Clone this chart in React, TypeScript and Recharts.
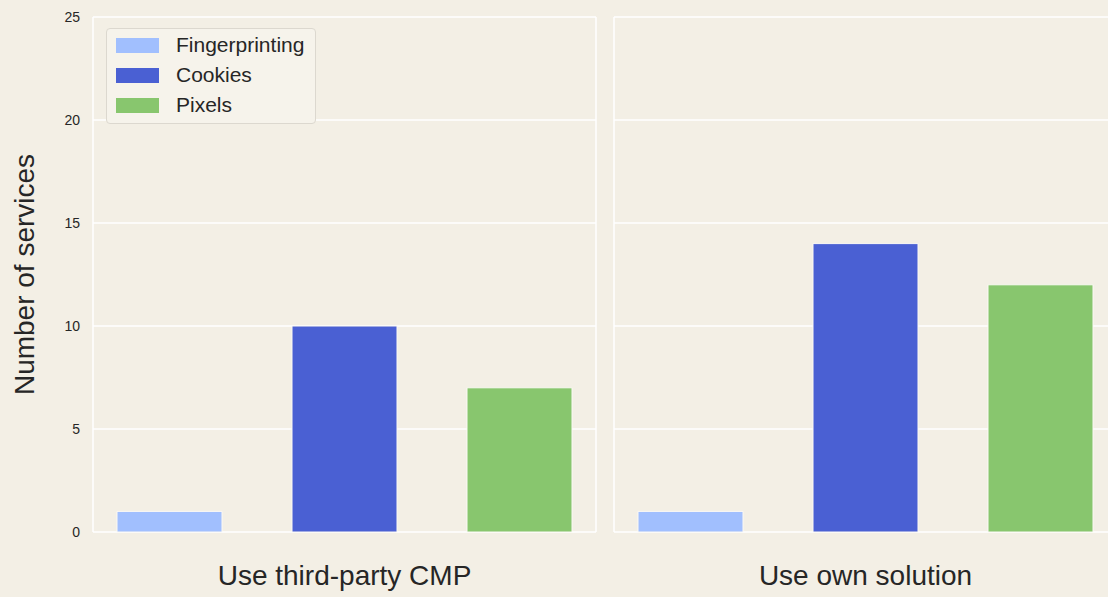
import { BarChart, Bar, XAxis, YAxis, CartesianGrid, Legend } from "recharts";

const groups = ["Use third-party CMP", "Use own solution"];
const seriesNames = ["Fingerprinting", "Cookies", "Pixels"];
const fingerprinting = [1, 1];
const cookies = [10, 14];
const pixels = [7, 12];
const yTicks = [0, 5, 10, 15, 20, 25];

const colors = ["#a1bffe", "#4a60d3", "#88c66e"];
const BG = "#f3efe5";
const FONT = '"Liberation Sans", Arial, sans-serif';
const TEXT = "#262626";

function panelData(i: number) {
  return [
    {
      group: groups[i],
      Fingerprinting: fingerprinting[i],
      Cookies: cookies[i],
      Pixels: pixels[i],
    },
  ];
}

// frame lines on the left/right edge of the plot area
const frameVertical = ({ offset }: any) => [offset.left, offset.left + offset.width];

function LegendBox({ payload }: any) {
  // keep the series order, not the alphabetical one
  const items = [...(payload || [])].sort(
    (a: any, b: any) => seriesNames.indexOf(a.value) - seriesNames.indexOf(b.value)
  );
  return (
    <div
      style={{
        background: "#f6f3eb",
        border: "1px solid #dcd8cf",
        borderRadius: 4,
        padding: "1px 11px 3px 9px",
        fontFamily: FONT,
        fontSize: 21,
        color: TEXT,
      }}
    >
      {items.map((p: any) => (
        <div key={p.value} style={{ display: "flex", alignItems: "center", height: 30 }}>
          <span
            style={{ width: 43, height: 15, background: p.color, display: "inline-block", marginRight: 17 }}
          />
          <span>{p.value}</span>
        </div>
      ))}
    </div>
  );
}

function Panel({ index, showAxis }: { index: number; showAxis: boolean }) {
  return (
    <BarChart
      width={showAxis ? 597 : 514}
      height={597}
      data={panelData(index)}
      margin={{ top: 17, right: 1, bottom: 5, left: showAxis ? 0 : 10 }}
      barSize={105}
      barGap={70}
    >
      <CartesianGrid
        stroke="#ffffff"
        strokeWidth={1.5}
        verticalCoordinatesGenerator={frameVertical}
      />
      <XAxis
        dataKey="group"
        height={60}
        tickLine={false}
        axisLine={false}
        tickMargin={27}
        tick={{ fontSize: 28, fill: TEXT, fontFamily: FONT }}
      />
      {showAxis ? (
        <YAxis
          width={93}
          domain={[0, 25]}
          ticks={yTicks}
          tickLine={false}
          axisLine={false}
          tickMargin={7}
          tick={{ fontSize: 14, fill: TEXT, fontFamily: FONT }}
          label={{
            value: "Number of services",
            angle: -90,
            position: "center",
            dx: -22,
            style: { fontSize: 28, fill: TEXT, fontFamily: FONT },
          }}
        />
      ) : (
        <YAxis hide width={0} domain={[0, 25]} ticks={yTicks} />
      )}
      {showAxis && (
        <Legend
          layout="vertical"
          align="center"
          verticalAlign="middle"
          wrapperStyle={{ top: 28, left: 106, width: "auto" }}
          content={<LegendBox />}
        />
      )}
      {seriesNames.map((name, k) => (
        <Bar
          key={name}
          dataKey={name}
          fill={colors[k]}
          stroke="#fbf9f4"
          strokeWidth={1}
          isAnimationActive={false}
        />
      ))}
    </BarChart>
  );
}

export default function App() {
  return (
    <div
      style={{
        position: "absolute",
        left: 0,
        top: 0,
        width: 1108,
        height: 597,
        overflow: "hidden",
        background: BG,
        fontFamily: FONT,
      }}
    >
      <div style={{ position: "absolute", left: 0, top: 0 }}>
        <Panel index={0} showAxis />
      </div>
      <div style={{ position: "absolute", left: 604, top: 0 }}>
        <Panel index={1} showAxis={false} />
      </div>
    </div>
  );
}
